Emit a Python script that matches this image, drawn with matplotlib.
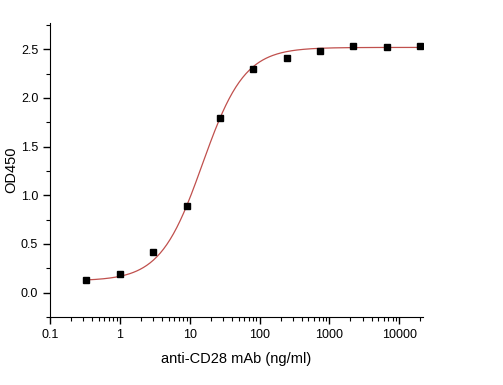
import numpy as np
import matplotlib
matplotlib.use("Agg")
import matplotlib.pyplot as plt
from matplotlib.ticker import FixedLocator, LogLocator, NullFormatter, MultipleLocator

plt.rcParams['font.family'] = ['Liberation Sans', 'DejaVu Sans']

# measured points (3-fold dilution)
conc = [0.333, 1, 3, 9, 27, 81, 243, 729, 2187, 6561, 19683]
od450 = [0.13, 0.19, 0.42, 0.89, 1.79, 2.30, 2.41, 2.48, 2.53, 2.52, 2.53]

# 4PL fit parameters
bottom = 0.12
top = 2.52
ec50 = 15.2
hill = 1.44

xfit = np.logspace(np.log10(conc[0]), np.log10(conc[-1]), 300)
yfit = bottom + (top - bottom) / (1 + (ec50 / xfit) ** hill)

fig = plt.figure(figsize=(5.03, 3.85), dpi=100)
ax = fig.add_axes([0.0994, 0.177, 0.742, 0.763])

ax.plot(xfit, yfit, color='#c0504d', lw=0.9)
ax.plot(conc, od450, 's', color='black', markersize=4)

ax.set_xscale('log')
ax.set_xlim(0.1, 22000)
ax.set_ylim(-0.25, 2.77)

ax.xaxis.set_major_locator(FixedLocator([0.1, 1, 10, 100, 1000, 10000]))
ax.set_xticklabels(['0.1', '1', '10', '100', '1000', '10000'])
ax.xaxis.set_minor_locator(LogLocator(base=10, subs=np.arange(2, 10)))
ax.xaxis.set_minor_formatter(NullFormatter())
ax.yaxis.set_major_locator(FixedLocator([0, 0.5, 1.0, 1.5, 2.0, 2.5]))
ax.set_yticklabels(['0.0', '0.5', '1.0', '1.5', '2.0', '2.5'])
ax.yaxis.set_minor_locator(MultipleLocator(0.25))

for s in ['top', 'right']:
    ax.spines[s].set_visible(False)
ax.tick_params(which='major', direction='out', length=5, width=1, labelsize=9)
ax.tick_params(which='minor', direction='out', length=3, width=0.8)

ax.set_xlabel('anti-CD28 mAb (ng/ml)', fontsize=10.5, labelpad=8)
ax.set_ylabel('OD450', fontsize=10.5, labelpad=2)

fig.savefig('out.png', dpi=100)
